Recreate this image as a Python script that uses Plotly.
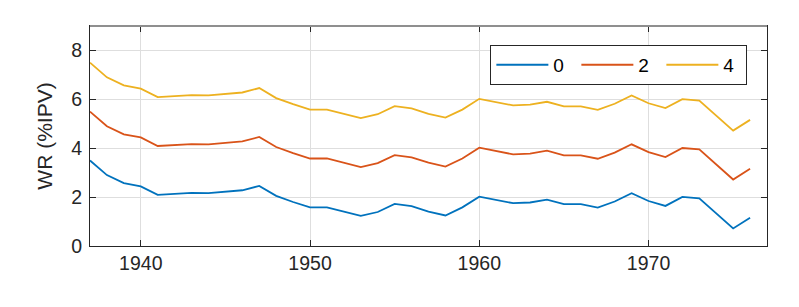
import plotly.graph_objects as go

years = list(range(1937, 1977))
wr_0 = [3.50, 2.90, 2.57, 2.44, 2.09, 2.14, 2.17, 2.16, 2.22, 2.28,
        2.46, 2.05, 1.80, 1.58, 1.58, 1.41, 1.23, 1.39, 1.72, 1.63,
        1.41, 1.25, 1.58, 2.02, 1.90, 1.75, 1.78, 1.90, 1.71, 1.71,
        1.57, 1.82, 2.16, 1.84, 1.64, 2.01, 1.95, 1.34, 0.72, 1.16]
wr_2 = [5.50, 4.90, 4.57, 4.44, 4.09, 4.14, 4.17, 4.16, 4.22, 4.28,
        4.46, 4.05, 3.80, 3.58, 3.58, 3.41, 3.23, 3.39, 3.72, 3.63,
        3.41, 3.25, 3.58, 4.02, 3.90, 3.75, 3.78, 3.90, 3.71, 3.71,
        3.57, 3.82, 4.16, 3.84, 3.64, 4.01, 3.95, 3.34, 2.72, 3.16]
wr_4 = [7.50, 6.90, 6.57, 6.44, 6.09, 6.14, 6.17, 6.16, 6.22, 6.28,
        6.46, 6.05, 5.80, 5.58, 5.58, 5.41, 5.23, 5.39, 5.72, 5.63,
        5.41, 5.25, 5.58, 6.02, 5.90, 5.75, 5.78, 5.90, 5.71, 5.71,
        5.57, 5.82, 6.16, 5.84, 5.64, 6.01, 5.95, 5.34, 4.72, 5.16]
series_names = ["0", "2", "4"]
series_colors = ["#0072BD", "#D95319", "#EDB120"]
x_ticks = [1940, 1950, 1960, 1970]
y_ticks = [0, 2, 4, 6, 8]

fig = go.Figure()
for name, vals, col in zip(series_names, [wr_0, wr_2, wr_4], series_colors):
    fig.add_trace(go.Scatter(x=years, y=vals, mode="lines", name=name,
                             line=dict(color=col, width=1.8)))

axis_common = dict(showline=True, linecolor="#262626", linewidth=1,
                   mirror="allticks", ticks="inside", ticklen=6,
                   tickcolor="#262626", showgrid=True, gridcolor="#dedede",
                   gridwidth=1, zeroline=False,
                   tickfont=dict(size=19.5, color="#262626"))

fig.update_layout(
    width=799, height=307,
    margin=dict(l=90, r=32, t=26, b=61),
    paper_bgcolor="white", plot_bgcolor="white",
    font=dict(family="Liberation Sans, Arial, sans-serif", color="#262626"),
    xaxis=dict(range=[1937, 1977], tickvals=x_ticks, **axis_common),
    yaxis=dict(range=[0, 9], tickvals=y_ticks, ticklabelstandoff=3,
               title=dict(text="WR (%IPV)", font=dict(size=21, color="#262626"),
                          standoff=12),
               **axis_common),
    legend=dict(orientation="h", x=0.971, xanchor="right", y=0.914,
                yanchor="top", bgcolor="white", bordercolor="#262626",
                borderwidth=1, font=dict(size=19, color="#000000"),
                itemwidth=52, entrywidth=18, entrywidthmode="pixels"),
    showlegend=True,
)
fig.add_shape(type="line", xref="paper", yref="paper", x0=0, x1=1, y0=1, y1=1,
              line=dict(color="#8f8f8f", width=2), layer="above")

fig.write_html("out.html")
